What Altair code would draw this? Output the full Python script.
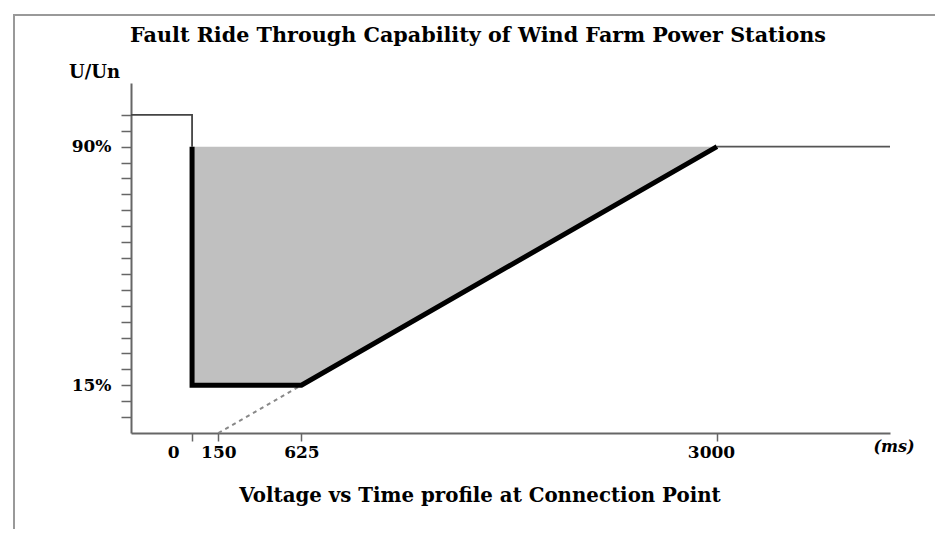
import altair as alt
import pandas as pd

# ---- data ----
x_ticks = [0, 150, 625, 3000]
y_ticks = [5, 10, 15, 20, 25, 30, 35, 40, 45, 50, 55, 60, 65, 70, 75, 80, 85, 90, 95, 100]

fault_x = [0, 0, 625, 3000]
fault_y = [90, 15, 15, 90]

shade_x = [0, 625, 3000]
shade_lo = [15, 15, 90]
shade_hi = [90, 90, 90]

pre_x = [-349, 0, 0]
pre_y = [100, 100, 90]

post_x = [3000, 3989]
post_y = [90, 90]

ext_x = [150, 625]
ext_y = [0, 15]

X_DOMAIN = [-349, 3989]
Y_DOMAIN = [0, 110]
FONT = "DejaVu Serif"

W, H = 759, 350

def line_df(xs, ys):
    return pd.DataFrame({"t": xs, "u": ys, "i": list(range(len(xs)))})

xs = alt.Scale(domain=X_DOMAIN, nice=False, zero=False)
ys = alt.Scale(domain=Y_DOMAIN, nice=False, zero=False)

x_axis = alt.Axis(
    values=x_ticks, title=None, grid=False, tickSize=8, tickColor="#666", tickWidth=1.5,
    domainColor="#666", domainWidth=2, labelFont=FONT, labelFontWeight="bold",
    labelFontSize=17, labelColor="black", labelPadding=3, format="d",
    labelOffset={"condition": [{"test": "datum.value == 0", "value": -19},
                               {"test": "datum.value == 3000", "value": -6}], "value": 0},
)
y_axis = alt.Axis(
    values=y_ticks, title=None, grid=False, tickSize=10, tickColor="#666", tickWidth=1.5,
    domainColor="#666", domainWidth=2, labelFont=FONT, labelFontWeight="bold",
    labelFontSize=17, labelColor="black", labelPadding=10,
    labelExpr="datum.value == 90 ? '90%' : datum.value == 15 ? '15%' : ''",
)

def X(field):
    return alt.X(field, type="quantitative", scale=xs, axis=x_axis)

def Y(field):
    return alt.Y(field, type="quantitative", scale=ys, axis=y_axis)

shade = alt.Chart(pd.DataFrame({"t": shade_x, "lo": shade_lo, "hi": shade_hi})).mark_area(
    color="#c0c0c0"
).encode(x=X("t"), y=Y("lo"), y2="hi:Q")

fault = alt.Chart(line_df(fault_x, fault_y)).mark_line(
    color="black", strokeWidth=5, strokeJoin="miter"
).encode(x=X("t"), y=Y("u"), order="i:Q")

pre = alt.Chart(line_df(pre_x, pre_y)).mark_line(color="#444", strokeWidth=1.8).encode(
    x=X("t"), y=Y("u"), order="i:Q")

post = alt.Chart(line_df(post_x, post_y)).mark_line(color="#555", strokeWidth=1.8).encode(
    x=X("t"), y=Y("u"), order="i:Q")

ext = alt.Chart(line_df(ext_x, ext_y)).mark_line(
    color="#888", strokeWidth=2, strokeDash=[4, 4]
).encode(x=X("t"), y=Y("u"), order="i:Q")

# ---- decorative texts and frame (pixel positions relative to plot origin) ----
def label(text, x, y, size, align="center", style="normal", baseline="alphabetic"):
    return alt.Chart(pd.DataFrame({"s": [text]})).mark_text(
        font=FONT, fontWeight="bold", fontSize=size, align=align, baseline=baseline,
        fontStyle=style, color="black"
    ).encode(x=alt.value(x), y=alt.value(y), text="s:N")

title = label("Fault Ride Through Capability of Wind Farm Power Stations", 347, -41, 20.7)
ylab = label("U/Un", -11, -5, 18, align="right")
xtitle = label("Voltage vs Time profile at Connection Point", 349, 419, 19.8)
unit = label("(ms)", 763, 364, 16, style="italic", baseline="middle")

frame = alt.Chart(pd.DataFrame({"a": [0]})).mark_rect(
    fill=None, stroke="#999", strokeWidth=2
).encode(x=alt.value(-117), x2=alt.value(808), y=alt.value(-68), y2=alt.value(470))

chart = alt.layer(frame, shade, ext, pre, post, fault, title, ylab, xtitle, unit).properties(
    width=W, height=H,
    autosize=alt.AutoSizeParams(type="none"),
    padding={"left": 123, "top": 75, "right": 45, "bottom": 96},
    background="white",
).configure_view(stroke=None)

chart.save("out.html", embed_options={"renderer": "svg", "actions": False})
